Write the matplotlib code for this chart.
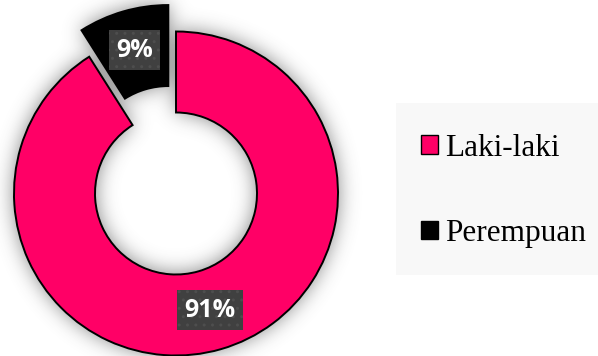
"""Donut chart: share of respondents by sex (Laki-laki / Perempuan)."""
import matplotlib
matplotlib.use('Agg')
import matplotlib.pyplot as plt
import numpy as np
from matplotlib.patches import Patch, Rectangle

labels = ['Laki-laki', 'Perempuan']
values = [91, 9]
colors = ['#ff0066', '#000000']
explode = [0.0, 0.17]

W, H = 598, 356
fig = plt.figure(figsize=(W / 100, H / 100), dpi=100)
fig.patch.set_facecolor('white')

# axes placed so the donut centre and radius land where they should in pixels
cx, cy, R = 176, 162.5, 162.0
lim = 1.3
half = lim * R
ax = fig.add_axes([(cx - half) / W, (cy - half) / H, 2 * half / W, 2 * half / H])

# legend panel background
fig.patches.append(Rectangle((396 / W, (H - 275) / H), (W - 396) / W, 172 / H,
                             transform=fig.transFigure, facecolor='#f8f8f8',
                             edgecolor='none', zorder=0))

wedges, _, autotexts = ax.pie(
    values, colors=colors, explode=explode, startangle=90, counterclock=False,
    radius=1.0, autopct='%1.0f%%', pctdistance=0.75,
    wedgeprops=dict(width=0.5, edgecolor='black', linewidth=1.4),
    textprops=dict(color='white', fontsize=18, fontweight='bold',
                   family='Open Sans'))

for w in wedges:
    w.set_zorder(3)
for t in autotexts:
    t.set_zorder(5)
    t.set_bbox(dict(boxstyle='square,pad=0.3', facecolor='#404040',
                    edgecolor='#4e4e4e', hatch='..', linewidth=0))

# soft glow behind the ring: rasterise the wedges and blur them
n = 440
g = np.linspace(-lim, lim, n)
X, Y = np.meshgrid(g, g)
mask = np.zeros_like(X)
theta0 = 90.0
for val, ex in zip(values, explode):
    sweep = 360.0 * val / sum(values)
    mid = np.deg2rad(theta0 - sweep / 2)
    ox, oy = ex * np.cos(mid), ex * np.sin(mid)
    rho = np.hypot(X - ox, Y - oy)
    ang = (np.degrees(np.arctan2(Y - oy, X - ox)) - (theta0 - sweep)) % 360
    mask[(rho <= 1.0) & (rho >= 0.5) & (ang <= sweep)] = 1.0
    theta0 -= sweep

sigma = 10.0 * n / (2 * half)
k = np.arange(-int(3 * sigma), int(3 * sigma) + 1)
kern = np.exp(-0.5 * (k / sigma) ** 2)
kern /= kern.sum()
blur = np.apply_along_axis(lambda r: np.convolve(r, kern, mode='same'), 0, mask)
blur = np.apply_along_axis(lambda r: np.convolve(r, kern, mode='same'), 1, blur)
shadow = np.zeros((n, n, 4))
shadow[..., :3] = 0.3
shadow[..., 3] = np.clip(blur * 0.7, 0, 1)
ax.imshow(shadow, extent=(-lim, lim, -lim, lim), origin='lower',
          interpolation='bilinear', zorder=1)

ax.set_xlim(-lim, lim)
ax.set_ylim(-lim, lim)
ax.set_aspect('auto')
ax.axis('off')

handles = [Patch(facecolor=c, edgecolor='black', linewidth=1.0) for c in colors]
fig.legend(handles, labels, loc='center left',
           bbox_to_anchor=(421 / W, 1 - 191 / H), frameon=False,
           prop=dict(family='Liberation Serif', size=22.5),
           handlelength=0.55, handleheight=0.55, handletextpad=0.22,
           labelspacing=1.8, borderpad=0, borderaxespad=0)

fig.savefig('out.png', dpi=100, facecolor='white')
